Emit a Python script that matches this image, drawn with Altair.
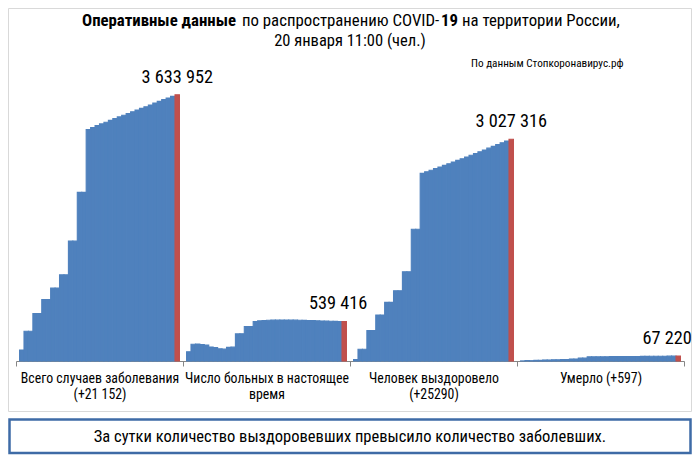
import altair as alt
import pandas as pd

categories = [
    "Всего случаев заболевания|(+21 152)",
    "Число больных в настоящее|время",
    "Человек выздоровело|(+25290)",
    "Умерло (+597)",
]

cases = [150000, 405843, 405843, 647849, 647849, 839981, 839981, 995319, 995319,
         1176286, 1176286, 1636781, 1636781, 2302062, 2302062,
         3159297, 3186853, 3212637, 3236787, 3260138, 3284408, 3308601, 3332142,
         3355794, 3379103, 3401954, 3425269, 3448203, 3471318, 3495816, 3520531,
         3544623, 3568209, 3590378, 3612800, 3633952]

active = [127000, 228000, 232000, 226000, 218000, 192000, 182000, 167000, 162000,
          186000, 189000, 370000, 373000, 469000, 472000,
          540000, 548000, 553000, 556000, 558000, 559000, 560000, 560000,
          559000, 558000, 556000, 555000, 553000, 551000, 549000, 547000,
          545000, 543000, 541000, 540000, 539416]

recovered = [20000, 160000, 160000, 414000, 414000, 628000, 628000, 801000, 801000,
             960000, 960000, 1219000, 1219000, 1798000, 1798000,
             2562000, 2584000, 2605000, 2627000, 2648000, 2670000, 2693000, 2716000,
             2739000, 2762000, 2786000, 2809000, 2833000, 2857000, 2881000, 2906000,
             2930000, 2954000, 2978000, 3002026, 3027316]

deaths = [1300, 4693, 4693, 9320, 9320, 13963, 13963, 17128, 17128,
          20722, 20722, 28235, 28235, 39068, 39068,
          57019, 57555, 58002, 58506, 59031, 59506, 59951, 60457,
          60963, 61381, 61837, 62273, 62804, 63370, 63940, 64495,
          65059, 65632, 66214, 66623, 67220]

rows = []
for cat, series in zip(categories, [cases, active, recovered, deaths]):
    n = len(series)
    for i, v in enumerate(series):
        rows.append({"cat": cat, "idx": i, "value": v,
                     "kind": "today" if i == n - 1 else "past",
                     "label": f"{v:,}".replace(",", " ")})
df = pd.DataFrame(rows)
one = pd.DataFrame({"k": [0]})

FONT = "Liberation Sans Narrow, Arial Narrow, Roboto Condensed, Roboto, sans-serif"

x = alt.X("cat:N", sort=categories,
          scale=alt.Scale(paddingInner=0, paddingOuter=0),
          axis=alt.Axis(title=None, labelExpr="split(datum.label, '|')",
                        tickBand="extent", tickSize=5, domainColor="#868686",
                        tickColor="#868686", labelFont=FONT, labelFontSize=13.8,
                        labelColor="#000000", labelPadding=5, labelLineHeight=16,
                        labelAngle=0))
xo = alt.XOffset("idx:O", scale=alt.Scale(paddingInner=0, paddingOuter=0.8))
y = alt.Y("value:Q", scale=alt.Scale(domain=[0, 4000000]), axis=None)
cscale = alt.Scale(domain=["past", "today"], range=["#4F81BD", "#C0504D"])

bars = alt.Chart(df).mark_bar(strokeWidth=1.1, strokeJoin="miter").encode(
    x=x, xOffset=xo, y=y,
    color=alt.Color("kind:N", scale=cscale, legend=None),
    stroke=alt.Stroke("kind:N", scale=cscale, legend=None),
)

def value_labels(cats, dx):
    return alt.Chart(df).transform_filter(
        alt.FieldOneOfPredicate(field="cat", oneOf=cats)
    ).transform_filter(alt.datum.kind == "today").mark_text(
        font=FONT, fontSize=18.3, baseline="alphabetic", dy=-12, dx=dx, color="#000000"
    ).encode(x=x, xOffset=xo, y=y, text="label:N")

lab1 = value_labels([categories[0], categories[2]], 0)
lab2 = value_labels([categories[1]], -6)
lab3 = value_labels([categories[3]], -11)

def txt(t, xv, yv, size, weight="normal", align="left"):
    return alt.Chart(one).mark_text(
        text=t, font=FONT, fontSize=size, fontWeight=weight, align=align,
        baseline="alphabetic", color="#000000"
    ).encode(x=alt.value(xv), y=alt.value(yv))

tA = txt("Оперативные данные", 66, -42, 16.8, "bold")
tB = txt("по распространению COVID-", 226, -42, 16.8)
tC = txt("19", 425, -42, 16.8, "bold")
tD = txt("на территории России,", 446, -42, 16.8)
t2 = txt("20 января 11:00 (чел.)", 334, -22, 16.5, align="center")
src = txt("По данным Стопкоронавирус.рф", 455, -1, 11.2)
note = txt("За сутки количество выздоровевших превысило количество заболевших.",
           334, 374, 16.5, align="center")

border = alt.Chart(one).mark_rect(fillOpacity=0, stroke="#D9D9D9", strokeWidth=1).encode(
    x=alt.value(-7.5), x2=alt.value(675.5), y=alt.value(-59.5), y2=alt.value(343.5))
box = alt.Chart(one).mark_rect(fillOpacity=0, stroke="#3E6BA6", strokeWidth=2.5).encode(
    x=alt.value(-6.5), x2=alt.value(674.5), y=alt.value(351.5), y2=alt.value(385))

chart = alt.layer(border, box, bars, lab1, lab2, lab3, tA, tB, tC, tD, t2, src, note).properties(
    width=668, height=293,
    autosize=alt.AutoSizeParams(type="none"),
    padding={"left": 8, "top": 60, "right": 8, "bottom": 96},
    background="white",
).configure_view(stroke=None)

chart.save("out.html", embed_options={"renderer": "svg", "actions": False})
